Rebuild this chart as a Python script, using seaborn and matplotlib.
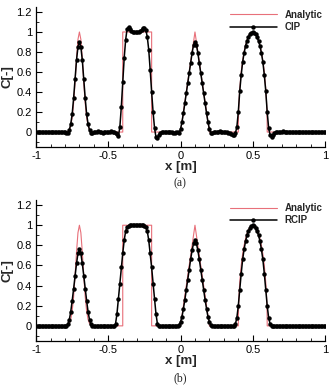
import numpy as np
import matplotlib
matplotlib.use("Agg")
import matplotlib.pyplot as plt
from matplotlib.ticker import MultipleLocator, FuncFormatter
import seaborn as sns

# grid of the numerical solution (dx = 0.01, 201 nodes)
x_grid = np.round(np.linspace(-1.0, 1.0, 201), 2)

# C, CIP scheme, one row = 10 nodes starting at the x in the comment
cip_values = [
    0, 0, 0, 0, 0, 0, 0, 0, 0, 0,                                  # -1.00
    0, 0, 0, 0, 0, 0, 0, 0, 0, 0,                                  # -0.90
    0.0, -0.01, -0.01, 0.02, 0.08, 0.18, 0.34, 0.53, 0.72, 0.85,   # -0.80
    0.90, 0.85, 0.72, 0.53, 0.34, 0.18, 0.08, 0.02, -0.01, -0.01,  # -0.70
    0.0, 0.0, 0.0, 0.01, 0.0, 0.0, -0.01, 0.0, 0.0, 0.0,           # -0.60
    0.0, 0.0, 0.01, 0.0, 0.0, -0.01, -0.02, -0.04, 0.05, 0.25,     # -0.50
    0.50, 0.74, 0.92, 1.03, 1.05, 1.03, 1.01, 1.00, 1.00, 1.00,    # -0.40
    1.00, 1.00, 1.01, 1.02, 1.04, 1.04, 1.02, 0.95, 0.82, 0.62,    # -0.30
    0.40, 0.20, 0.04, -0.05, -0.06, -0.03, -0.01, 0.0, 0.0, 0.0,   # -0.20
    0.0, 0.0, 0.0, 0.0, 0.0, -0.01, -0.01, 0.0, 0.0, -0.01,        # -0.10
    0.03, 0.10, 0.19, 0.29, 0.39, 0.49, 0.59, 0.69, 0.79, 0.87,    # 0.00
    0.90, 0.87, 0.79, 0.69, 0.59, 0.49, 0.39, 0.29, 0.19, 0.10,    # 0.10
    0.03, -0.01, -0.01, 0.0, 0.0, 0.0, 0.0, 0.01, 0.0, 0.0,        # 0.20
    0.0, 0.0, 0.0, -0.01, -0.01, -0.02, -0.03, -0.03, -0.01, 0.05, # 0.30
    0.20, 0.41, 0.57, 0.70, 0.79, 0.86, 0.91, 0.95, 0.98, 0.99,    # 0.40
    1.00, 0.99, 0.98, 0.95, 0.91, 0.86, 0.79, 0.70, 0.57, 0.41,    # 0.50
    0.20, 0.04, -0.03, -0.05, -0.03, -0.01, 0.0, 0.0, 0.0, 0.0,    # 0.60
    0.0, 0.01, 0.0, 0.0, 0.0, 0.0, 0.0, 0.0, 0.0, 0.0,             # 0.70
    0, 0, 0, 0, 0, 0, 0, 0, 0, 0,                                  # 0.80
    0, 0, 0, 0, 0, 0, 0, 0, 0, 0,                                  # 0.90
    0,                                                             # 1.00
]

# C, RCIP scheme
rcip_values = [
    0, 0, 0, 0, 0, 0, 0, 0, 0, 0,                                  # -1.00
    0, 0, 0, 0, 0, 0, 0, 0, 0, 0,                                  # -0.90
    0.0, 0.0, 0.015, 0.06, 0.14, 0.25, 0.37, 0.50, 0.62, 0.72,     # -0.80
    0.76, 0.72, 0.62, 0.50, 0.37, 0.25, 0.14, 0.06, 0.015, 0.0,    # -0.70
    0, 0, 0, 0, 0, 0, 0, 0, 0, 0,                                  # -0.60
    0.0, 0.0, 0.0, 0.0, 0.0, 0.02, 0.12, 0.27, 0.42, 0.58,         # -0.50
    0.72, 0.85, 0.94, 0.98, 0.995, 1.0, 1.0, 1.0, 1.0, 1.0,        # -0.40
    1.0, 1.0, 1.0, 1.0, 1.0, 0.995, 0.98, 0.94, 0.85, 0.72,        # -0.30
    0.58, 0.42, 0.27, 0.12, 0.02, 0.0, 0.0, 0.0, 0.0, 0.0,         # -0.20
    0.0, 0.0, 0.0, 0.0, 0.0, 0.0, 0.0, 0.0, 0.0, 0.01,             # -0.10
    0.04, 0.09, 0.17, 0.26, 0.36, 0.46, 0.56, 0.66, 0.75, 0.82,    # 0.00
    0.85, 0.82, 0.75, 0.66, 0.56, 0.46, 0.36, 0.26, 0.17, 0.09,    # 0.10
    0.04, 0.01, 0.0, 0.0, 0.0, 0.0, 0.0, 0.0, 0.0, 0.0,            # 0.20
    0.0, 0.0, 0.0, 0.0, 0.0, 0.0, 0.0, 0.0, 0.02, 0.08,            # 0.30
    0.20, 0.36, 0.52, 0.66, 0.76, 0.84, 0.90, 0.94, 0.97, 0.99,    # 0.40
    1.0, 0.99, 0.97, 0.94, 0.90, 0.84, 0.76, 0.66, 0.52, 0.36,     # 0.50
    0.20, 0.08, 0.02, 0.0, 0.0, 0.0, 0.0, 0.0, 0.0, 0.0,           # 0.60
    0, 0, 0, 0, 0, 0, 0, 0, 0, 0,                                  # 0.70
    0, 0, 0, 0, 0, 0, 0, 0, 0, 0,                                  # 0.80
    0, 0, 0, 0, 0, 0, 0, 0, 0, 0,                                  # 0.90
    0,                                                             # 1.00
]

# analytic profile: gaussian, square, triangle, half ellipse
analytic_x = [
    -1.0, -0.8, -0.79, -0.78, -0.77, -0.76, -0.75, -0.74, -0.73, -0.72, -0.71,
    -0.7, -0.69, -0.68, -0.67, -0.66, -0.65, -0.64, -0.63, -0.62, -0.61, -0.6,
    -0.4, -0.4, -0.2, -0.2,
    0.0, 0.1, 0.2,
    0.4, 0.4005, 0.402, 0.405, 0.41, 0.42, 0.43, 0.44, 0.45, 0.46, 0.47, 0.48, 0.49,
    0.5, 0.51, 0.52, 0.53, 0.54, 0.55, 0.56, 0.57, 0.58, 0.59, 0.595, 0.598, 0.5995, 0.6,
    1.0,
]
analytic_c = [
    0.0, 0.0, 0.002, 0.007, 0.023, 0.063, 0.146, 0.29, 0.50, 0.735, 0.926,
    1.0, 0.926, 0.735, 0.50, 0.29, 0.146, 0.063, 0.023, 0.007, 0.002, 0.0,
    0.0, 1.0, 1.0, 0.0,
    0.0, 1.0, 0.0,
    0.0, 0.1, 0.2, 0.31, 0.436, 0.6, 0.714, 0.8, 0.866, 0.917, 0.954, 0.98, 0.995,
    1.0, 0.995, 0.98, 0.954, 0.917, 0.866, 0.8, 0.714, 0.6, 0.436, 0.31, 0.2, 0.1, 0.0,
    0.0,
]

scheme_names = ["CIP", "RCIP"]
panel_labels = ["(a)", "(b)"]

sns.set_theme(style="ticks")
plt.rcParams["font.family"] = ["Liberation Sans", "DejaVu Sans"]
plt.rcParams["axes.unicode_minus"] = False

fig = plt.figure(figsize=(3.34, 3.87), dpi=100)
axes = [fig.add_axes([0.108, 0.620, 0.865, 0.362]),
        fig.add_axes([0.108, 0.119, 0.865, 0.364])]
label_y = [0.527, 0.023]

for ax, name, values, plabel, ly in zip(axes, scheme_names, [cip_values, rcip_values],
                                        panel_labels, label_y):
    sns.lineplot(x=analytic_x, y=analytic_c, ax=ax, color="#e8707a", linewidth=0.8,
                 sort=False, estimator=None, label="Analytic")
    sns.lineplot(x=x_grid, y=values, ax=ax, color="black", linewidth=1.1,
                 marker="o", markersize=3.2, markeredgewidth=0, estimator=None, label=name)

    ax.set_xlim(-1, 1)
    ax.set_ylim(-0.15, 1.25)
    ax.xaxis.set_major_locator(MultipleLocator(0.5))
    ax.xaxis.set_minor_locator(MultipleLocator(0.1))
    ax.yaxis.set_major_locator(MultipleLocator(0.2))
    ax.yaxis.set_minor_locator(MultipleLocator(0.1))
    fmt = FuncFormatter(lambda v, p: f"{round(v, 2) + 0.0:g}")
    ax.xaxis.set_major_formatter(fmt)
    ax.yaxis.set_major_formatter(fmt)
    ax.tick_params(which="major", direction="in", length=4, width=0.8,
                   labelsize=8, pad=3, colors="black")
    ax.tick_params(which="minor", direction="in", length=2, width=0.7)
    sns.despine(ax=ax)
    for s in ["left", "bottom"]:
        ax.spines[s].set_color("black")
        ax.spines[s].set_linewidth(0.9)

    ax.set_xlabel("x [m]", fontsize=9.5, fontweight="bold", labelpad=0)
    ax.set_ylabel("C[-]", fontsize=9.5, fontweight="bold", labelpad=2)

    ax.legend(loc="center left", bbox_to_anchor=(0.671, 0.90), frameon=False,
              borderpad=0, borderaxespad=0, handlelength=4.8, handletextpad=0.8,
              labelspacing=0.25, prop={"size": 7, "weight": "bold"})

    fig.text(0.54, ly, plabel, ha="center", va="center", fontsize=8.5,
             family=["Liberation Serif", "DejaVu Serif"])

fig.savefig("out.png", dpi=100)
